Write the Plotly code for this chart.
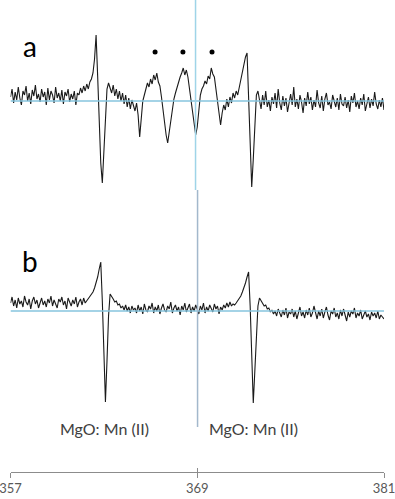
import numpy as np
import plotly.graph_objects as go

# Magnetic field axis (mT), 0.1 mT sampling
field_start, field_end, field_step = 357.0, 381.0, 0.1
field = np.round(np.arange(field_start, field_end + field_step / 2, field_step), 2)

# EPR signal, spectrum a (arbitrary units, baseline 0)
signal_a = [
    4, 12, -2, 9, 1, 14, 3, -4, 10, 6,
    15, 0, 8, -3, 11, 5, 16, 2, 7, -1,
    12, 4, 9, -4, 13, 1, 10, 6, -2, 14,
    3, 8, 0, 11, -3, 9, 5, 12, -1, 7,
    2, 10, -4, 8, 6, 13, 8, 15, 10, 17,
    12, 19, 22, 28, 42, 66, 25, -25, -62, -82,
    -45, -8, 12, 18, 14, 8, 16, 5, 12, 2,
    10, 0, 8, -3, 6, -6, 3, -8, 1, -5,
    -10, -2, -14, -36, -18, 0, 6, 12, 18, 14,
    22, 17, 26, 21, 28, 19, 15, 4, -10, -22,
    -34, -42, -30, -18, -6, 2, 8, 14, 19, 24,
    28, 33, 26, 31, 24, 12, 2, -10, -20, -34,
    -26, -6, 6, 12, 15, 20, 17, 25, 22, 33,
    27, 24, 12, 0, -10, -24, -12, -4, -9, 2,
    -6, 4, -2, 8, 3, 10, 6, 14, 20, 28,
    38, 44, 48, 8, -50, -86, -58, -16, 6, 10,
    2, -8, 6, -4, 10, -6, 1, -10, 4, -3,
    8, -7, 12, -2, -9, 5, -5, 3, -11, 0,
    7, -4, 14, -6, 2, -8, 6, -1, -12, 3,
    -5, 9, -3, 4, -9, 1, -6, 11, -2, -7,
    5, -10, 2, 8, -4, -1, -8, 6, 0, -6,
    3, -9, 7, -3, -5, 4, -7, 1, -11, 5,
    -2, 8, -6, 0, -8, 3, -4, 7, -10, -1,
    4, -7, 2, -5, 9, -3, -8, 1, -6, 3,
    -9,
]

# EPR signal, spectrum b (arbitrary units, baseline 0)
signal_b = [
    8, 14, 5, 11, 3, 13, 7, 10, 4, 15,
    9, 6, 12, 2, 10, 14, 7, 11, 3, 9,
    13, 6, 10, 4, 12, 8, 15, 5, 11, 7,
    3, 12, 9, 14, 6, 10, 2, 13, 8, 5,
    11, 7, 14, 4, 9, 12, 6, 13, 8, 10,
    12, 14, 16, 19, 23, 28, 34, 42, 49, 10,
    -50, -91, -50, -5, 17, 15, 12, 9, 10, 6,
    7, 3, 5, 1, 6, 0, 4, -2, 5, 1,
    3, -2, 6, 0, 4, -3, 7, 1, -1, 5,
    2, 8, -2, 4, 0, 6, -3, 3, 7, 1,
    -1, 5, 2, 9, -2, 3, 6, 0, 4, -4,
    5, 1, 8, -1, 3, 7, -2, 4, 0, 6,
    2, -3, 5, 1, 8, -2, 4, 0, 6, 3,
    -1, 7, 2, 5, -3, 4, 1, 6, 3, 8,
    4, 9, 5, 7, 6, 8, 10, 12, 15, 19,
    23, 28, 34, 39, 5, -50, -92, -60, -25, 5,
    13, 10, 8, 5, 6, 2, 3, -1, 1, -3,
    0, -5, 2, -2, -6, 1, -4, 3, -7, -1,
    -3, 2, -6, 0, -8, -2, 4, -5, -1, -7,
    1, -4, 3, -6, -2, 5, -3, -8, 0, -5,
    2, -7, -1, 4, -4, -9, 0, -3, 3, -6,
    -2, -8, 1, -5, 2, -4, -10, -1, -6, 0,
    -3, 3, -7, -2, -5, 1, -8, -4, 0, -6,
    -3, -9, -1, -5, -2, -7, 0, -8, -4, -6,
    -8,
]

# Marker dots above the extra lines in spectrum a
dot_field = [366.29, 368.08, 369.95]
dot_level = [49, 49, 49]

# Axis ticks
tick_vals = [357, 369, 381]
tick_text = ["357", "369", "381"]

# Reference field lines (mT)
ref_line_top = 368.89
ref_line_bottom = 369.02
label_text = "MgO: Mn (II)"

W, H = 395, 499
FONT = "Lato, 'Open Sans', sans-serif"
trace_color = "#1a1a1a"
base_color = "#86c4de"

fig = go.Figure()

# baselines
fig.add_trace(go.Scatter(x=[field_start, field_end], y=[0, 0], mode="lines",
                         line=dict(color=base_color, width=1.3),
                         xaxis="x2", yaxis="y", hoverinfo="skip", showlegend=False))
fig.add_trace(go.Scatter(x=[field_start, field_end], y=[0, 0], mode="lines",
                         line=dict(color=base_color, width=1.3),
                         xaxis="x2", yaxis="y2", hoverinfo="skip", showlegend=False))

# spectra
fig.add_trace(go.Scatter(x=field, y=signal_a, mode="lines",
                         line=dict(color=trace_color, width=1.1),
                         xaxis="x", yaxis="y", showlegend=False))
fig.add_trace(go.Scatter(x=field, y=signal_b, mode="lines",
                         line=dict(color=trace_color, width=1.1),
                         xaxis="x", yaxis="y2", showlegend=False))

# dots
fig.add_trace(go.Scatter(x=dot_field, y=dot_level, mode="markers",
                         marker=dict(color="black", size=5),
                         xaxis="x", yaxis="y", showlegend=False))

axis_pos = 27.5 / H
x_dom = [10.5 / W, 384.0 / W]


def label(text, px, py, size, color):
    return dict(text=text, xref="paper", yref="paper", x=px / W, y=1 - py / H,
                xanchor="center", yanchor="middle", showarrow=False,
                font=dict(size=size, color=color, family=FONT))


fig.update_layout(
    width=W, height=H,
    margin=dict(l=0, r=0, t=0, b=0, autoexpand=False),
    paper_bgcolor="white", plot_bgcolor="white",
    font=dict(family=FONT),
    xaxis=dict(domain=x_dom, range=[field_start, field_end], anchor="free",
               position=axis_pos, showline=True, linecolor="#8c8c8c", linewidth=1,
               ticks="outside", ticklen=5, tickcolor="#8c8c8c", tickwidth=1,
               tickvals=tick_vals, ticktext=tick_text, ticklabeloverflow="allow",
               tickfont=dict(size=13, color="#595959", family=FONT),
               automargin=False, showgrid=False, zeroline=False),
    xaxis2=dict(overlaying="x", range=[field_start, field_end], anchor="free",
                position=axis_pos, showline=False,
                ticks="inside", ticklen=4, tickcolor="#8c8c8c", tickwidth=1,
                tickvals=tick_vals, showticklabels=False, automargin=False,
                showgrid=False, zeroline=False),
    yaxis=dict(domain=[0.5, 1.0], range=[-148.5, 101], visible=False,
               anchor="x", automargin=False, showgrid=False, zeroline=False),
    yaxis2=dict(domain=[0.0, 0.5], range=[-188, 61.5], visible=False,
                anchor="x", automargin=False, showgrid=False, zeroline=False),
    shapes=[
        dict(type="line", xref="x", yref="paper", x0=ref_line_top, x1=ref_line_top,
             y0=1 - 190 / H, y1=1.0, line=dict(color="#9fd4e8", width=1.5)),
        dict(type="line", xref="x", yref="paper", x0=ref_line_bottom, x1=ref_line_bottom,
             y0=1 - 427 / H, y1=1 - 190 / H, line=dict(color="#a3b8cc", width=1.5)),
    ],
    annotations=[
        label("a", 30, 46, 28, "black"),
        label("b", 30, 261, 28, "black"),
        label(label_text, 104, 428, 16, "#404040"),
        label(label_text, 253.5, 428, 16, "#404040"),
    ],
)

fig.write_html("out.html", config={"displayModeBar": False},
               post_script="document.body.style.margin='0';document.body.style.overflow='hidden';")
